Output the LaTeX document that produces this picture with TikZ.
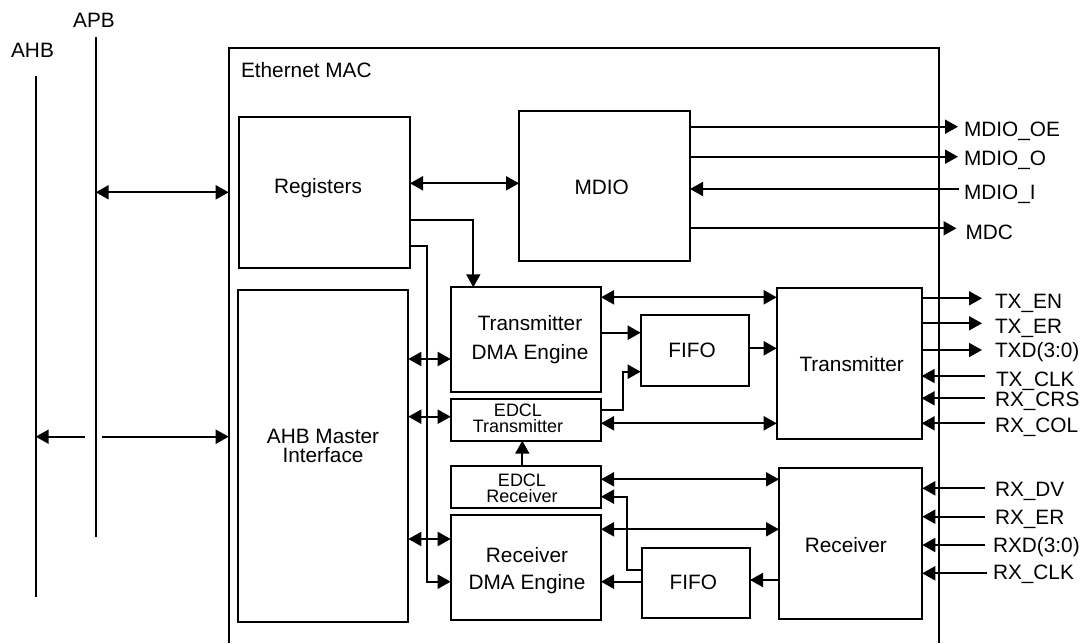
\documentclass[tikz,border=0pt]{standalone}
\usepackage{fontspec}
\setmainfont{Liberation Sans}
\usetikzlibrary{arrows.meta}
\begin{document}
\begin{tikzpicture}[x=1pt,y=-1pt,line width=2pt,
  >={Triangle[length=13pt,width=14pt]},
  box/.style={draw,rectangle,inner sep=0pt,outer sep=0pt,line width=2pt},
  txt/.style={inner sep=0pt,outer sep=0pt,font=\fontsize{20.8}{24}\selectfont,text height=14.9pt,text depth=0pt},
  sig/.style={txt,anchor=west},
  multi/.style={inner sep=0pt,outer sep=0pt,align=center},
  big2/.style={multi,font=\fontsize{20.8}{#1}\selectfont},
  small2/.style={multi,font=\fontsize{18}{16.7}\selectfont}]
\useasboundingbox (0,0) rectangle (1085,643);

% buses
\coordinate (apbT) at (95.7,37);
\coordinate (apbB) at (95.7,537);
\coordinate (ahbT) at (35.7,76);
\coordinate (ahbB) at (35.7,597);
\draw (apbT) -- (apbB);
\draw (ahbT) -- (ahbB);
\node[txt] (apbl) at (94,20.5) {APB};
\node[txt] (ahbl) at (32.5,50.5) {AHB};

% outer Ethernet MAC box (cut at the bottom)
\draw (228.7,643) |- (939,47.7) -- (939,643);
\node[sig] (macl) at (241,69.7) {Ethernet MAC};

% blocks
\node[box,minimum width=171pt,minimum height=151pt] (reg) at (324.5,192.2) {};
\node[box,minimum width=171pt,minimum height=150.6pt] (mdio) at (604.5,186) {};
\node[box,minimum width=170pt,minimum height=331.7pt] (ahbm) at (323.3,455.85) {};
\node[box,minimum width=150.3pt,minimum height=104.4pt] (txdma) at (525.85,339.5) {};
\node[box,minimum width=150.3pt,minimum height=41.7pt] (edcltx) at (525.85,419.85) {};
\node[box,minimum width=150.3pt,minimum height=41.7pt] (edclrx) at (525.85,486.85) {};
\node[box,minimum width=150.3pt,minimum height=105pt] (rxdma) at (525.85,567.5) {};
\node[box,minimum width=108.3pt,minimum height=70.7pt] (tfifo) at (694.85,350.35) {};
\node[box,minimum width=108.3pt,minimum height=70.6pt] (rfifo) at (695.85,583) {};
\node[box,minimum width=145pt,minimum height=150.7pt] (tx) at (849.2,363.65) {};
\node[box,minimum width=143.3pt,minimum height=150.7pt] (rx) at (850.65,543.65) {};

% block texts
\node[txt] (regt) at (318,186.5) {Registers};
\node[txt] (mdiot) at (601.7,187) {MDIO};
\node[big2=19.5] (ahbmt) at (323,445.75) {AHB Master\\Interface};
\node[big2=28.7] (txdmat) at (530,339.5) {Transmitter\\DMA Engine};
\node[small2] (edcltxt) at (518,418.35) {EDCL\\Transmitter};
\node[small2] (edclrxt) at (522,488.35) {EDCL\\Receiver};
\node[big2=26.7] (rxdmat) at (527,570.5) {Receiver\\DMA Engine};
\node[txt] (tfifot) at (692,350) {FIFO};
\node[txt] (rfifot) at (693.3,581.7) {FIFO};
\node[txt] (txt) at (851.7,364) {Transmitter};
\node[txt] (rxt) at (845.8,545) {Receiver};

% bus connections
\coordinate (apbA) at (95.7,192.3);
\coordinate (macA) at (228.7,192.3);
\draw[<->] (apbA) -- (macA);
\coordinate (ahbA) at (35.7,436.7);
\coordinate (ahbG1) at (85,436.7);
\coordinate (ahbG2) at (101.7,436.7);
\coordinate (macB) at (228.7,436.7);
\draw[->] (ahbG1) -- (ahbA);
\draw[->] (ahbG2) -- (macB);

% internal connections
\draw[<->] (reg.east |- 0,183.3) -- (mdio.west |- 0,183.3);
\draw[->] (reg.east |- 0,220) -| (473.3,0 |- txdma.north);
\draw[->] (reg.east |- 0,246) -| (426.7,581.7) -- (rxdma.west |- 0,581.7);
\draw[<->] (ahbm.east |- 0,359) -- (txdma.west |- 0,359);
\draw[<->] (ahbm.east |- 0,416.7) -- (edcltx.west |- 0,416.7);
\draw[<->] (ahbm.east |- 0,539) -- (rxdma.west |- 0,539);
\draw[->] (edclrx.north -| 522.3,0) -- (edcltx.south -| 522.3,0);
\draw[->] (txdma.east |- 0,332.7) -- (tfifo.west |- 0,332.7);
\draw[->] (edcltx.east |- 0,410) -| (623.3,371.7) -- (tfifo.west |- 0,371.7);
\draw[<->] (txdma.east |- 0,297.3) -- (tx.west |- 0,297.3);
\draw[->] (tfifo.east |- 0,348.3) -- (tx.west |- 0,348.3);
\draw[<->] (edcltx.east |- 0,423.3) -- (tx.west |- 0,423.3);
\draw[<->] (edclrx.east |- 0,479.3) -- (rx.west |- 0,479.3);
\draw[<->] (rxdma.east |- 0,529.3) -- (rx.west |- 0,529.3);
\draw[->] (rx.west |- 0,580) -- (rfifo.east |- 0,580);
\draw[->] (rfifo.west |- 0,581.7) -- (rxdma.east |- 0,581.7);
\draw[->] (rfifo.west |- 0,570) -| (626.7,496.7) -- (edclrx.east |- 0,496.7);

% MDIO signals
\coordinate (eMOE) at (958,126.7);
\coordinate (eMO) at (958,156.7);
\coordinate (eMI) at (959,189);
\coordinate (eMDC) at (956.5,228.3);
\draw[->] (mdio.east |- eMOE) -- (eMOE);
\draw[->] (mdio.east |- eMO) -- (eMO);
\draw[->] (eMI) -- (mdio.east |- eMI);
\draw[->] (mdio.east |- eMDC) -- (eMDC);
\node[sig] (lMOE) at (964,129) {MDIO\_OE};
\node[sig] (lMO) at (964,158.3) {MDIO\_O};
\node[sig] (lMI) at (964,191.7) {MDIO\_I};
\node[sig] (lMDC) at (965.5,232) {MDC};

% transmitter signals
\coordinate (eTXEN) at (982,298.3);
\coordinate (eTXER) at (982,323.3);
\coordinate (eTXD) at (982,350);
\coordinate (eTXCLK) at (985,376);
\coordinate (eRXCRS) at (985,398.3);
\coordinate (eRXCOL) at (985,423.3);
\draw[->] (tx.east |- eTXEN) -- (eTXEN);
\draw[->] (tx.east |- eTXER) -- (eTXER);
\draw[->] (tx.east |- eTXD) -- (eTXD);
\draw[->] (eTXCLK) -- (tx.east |- eTXCLK);
\draw[->] (eRXCRS) -- (tx.east |- eRXCRS);
\draw[->] (eRXCOL) -- (tx.east |- eRXCOL);
\node[sig] (lTXEN) at (995,301) {TX\_EN};
\node[sig] (lTXER) at (995,326.5) {TX\_ER};
\node[sig] (lTXD) at (995,350.3) {TXD(3:0)};
\node[sig] (lTXCLK) at (996,379.5) {TX\_CLK};
\node[sig] (lRXCRS) at (995,399.5) {RX\_CRS};
\node[sig] (lRXCOL) at (995,425.5) {RX\_COL};

% receiver signals
\coordinate (eRXDV) at (985,488.3);
\coordinate (eRXER) at (985,516.7);
\coordinate (eRXD) at (985,545);
\coordinate (eRXCLK) at (986.5,573.3);
\draw[->] (eRXDV) -- (rx.east |- eRXDV);
\draw[->] (eRXER) -- (rx.east |- eRXER);
\draw[->] (eRXD) -- (rx.east |- eRXD);
\draw[->] (eRXCLK) -- (rx.east |- eRXCLK);
\node[sig] (lRXDV) at (995,488.8) {RX\_DV};
\node[sig] (lRXER) at (995,516.7) {RX\_ER};
\node[sig] (lRXD) at (993,545) {RXD(3:0)};
\node[sig] (lRXCLK) at (993,572.5) {RX\_CLK};
\end{tikzpicture}
\end{document}
